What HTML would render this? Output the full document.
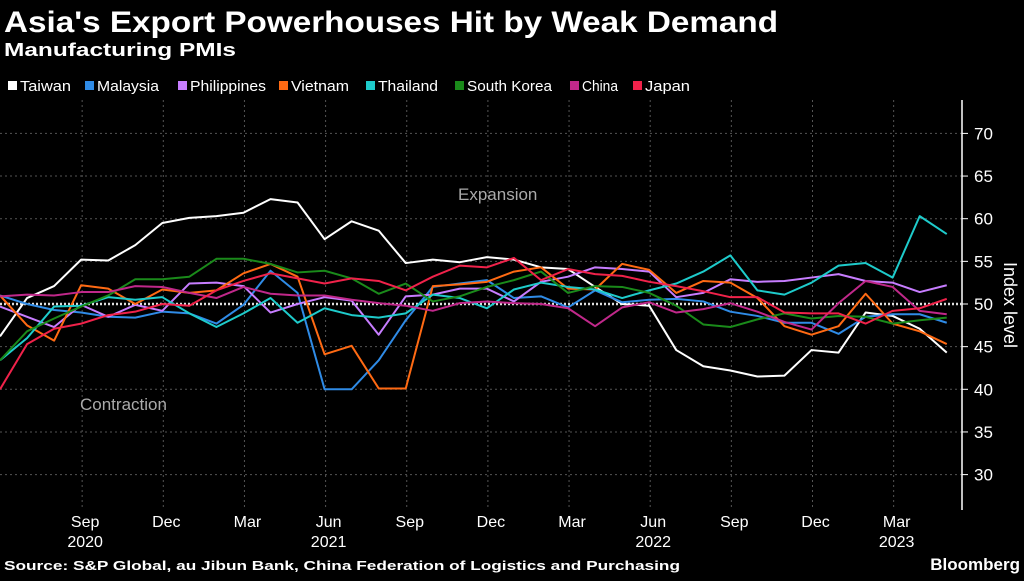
<!DOCTYPE html>
<html><head><meta charset="utf-8"><style>
body{margin:0;background:#000;width:1024px;height:576px;overflow:hidden;font-family:"Liberation Sans",sans-serif;color:#fff}
</style></head><body>
<svg id="c" width="1024" height="576" xmlns="http://www.w3.org/2000/svg">
<text x="4" y="32" font-size="30" font-weight="bold" fill="#fff" textLength="774" lengthAdjust="spacingAndGlyphs">Asia's Export Powerhouses Hit by Weak Demand</text>
<text x="4" y="56" font-size="18" font-weight="bold" fill="#fff" textLength="232" lengthAdjust="spacingAndGlyphs">Manufacturing PMIs</text>
<g id="legend"></g>
<g id="grid"></g><g id="series"></g>
<text x="80" y="410" font-size="17" fill="#aaa">Contraction</text>
<text x="458" y="200" font-size="17" fill="#aaa">Expansion</text>
<text transform="translate(1004,305) rotate(90)" text-anchor="middle" font-size="18" fill="#fff">Index level</text>
<text x="4" y="570" font-size="13" font-weight="bold" fill="#fff" textLength="676" lengthAdjust="spacingAndGlyphs">Source: S&amp;P Global, au Jibun Bank, China Federation of Logistics and Purchasing</text>
<text x="1020" y="570" text-anchor="end" font-size="17" font-weight="bold" fill="#fff">Bloomberg</text>
</svg>
<script>
const names=["Taiwan","Malaysia","Philippines","Vietnam","Thailand","South Korea","China","Japan"];
const colors=["#ffffff","#2f8be6","#c77dff","#ff6a13","#1ecbcb","#1a8a1a","#c0288a","#f0224a"];
const taiwan=[46.2,50.7,52.1,55.2,55.1,56.9,59.5,60.1,60.3,60.7,62.3,61.9,57.6,59.7,58.6,54.8,55.2,54.9,55.5,55.2,54.3,54.1,52.0,50.0,49.8,44.6,42.7,42.2,41.5,41.6,44.6,44.3,49.0,48.6,47.1,44.3];
const malaysia=[51,50,49.3,49,48.5,48.4,49.1,48.9,47.7,49.9,53.9,51.3,40,40,43.4,48.1,52,52.4,52.8,50.7,50.9,49.6,51.6,50.2,50.5,50.6,50.3,49.1,48.6,47.8,47.8,46.5,48.5,48.8,48.8,47.8];
const philippines=[49.7,48.5,47.3,49.9,48.5,49.9,49.2,52.4,52.5,52.1,49,50,50.8,50.4,46.4,50.9,51.1,51.8,51.8,50.3,52.6,53.2,54.3,54.1,53.8,50.8,51.3,52.9,52.6,52.7,53.1,53.5,52.7,52.5,51.4,52.2];
const vietnam=[51,47.5,45.7,52.2,51.8,50,51.7,51.3,51.6,53.6,54.7,53.2,44.1,45.1,40.1,40.1,52.1,52.3,52.6,53.8,54.3,51.8,51.7,54.7,54,51.3,52.7,52.5,50.7,47.4,46.4,47.4,51.2,47.7,46.8,45.3];
const thailand=[43.4,46,49.7,49.8,50.8,50.5,50.8,48.9,47.3,48.9,50.7,47.8,49.5,48.7,48.4,48.9,51.1,50.7,49.5,51.7,52.5,52,51.7,50.7,51.6,52.4,53.8,55.7,51.6,51.1,52.5,54.5,54.8,53.1,60.3,58.2];
const korea=[43.4,46.8,48.3,49.7,51,52.9,52.9,53.2,55.3,55.3,54.7,53.7,53.9,53,51.2,52.4,50.3,50.9,52,52.8,53.8,51.3,52.1,52,51.3,49.8,47.6,47.3,48.2,48.9,48.3,48.6,48.5,47.7,48.1,48.4];
const china=[50.9,51.1,51,51.4,51.4,52.1,52,51.3,50.7,52,51.2,51,51,50.5,50.1,49.8,49.2,50.1,50.3,50.1,50,49.5,47.4,49.6,50.2,49,49.4,50.1,49.1,47.9,47,50.1,52.7,52,49.2,48.8];
const japan=[40,45.3,47.1,47.7,48.7,49.1,50,49.8,51.6,52.7,53.6,53,52.4,53,52.7,51.6,53.2,54.5,54.3,55.4,52.8,54.1,53.5,53.3,52.6,52.1,51.5,50.8,50.8,49,48.9,48.9,47.7,49.2,49.5,50.6];
const seriesData=[taiwan,malaysia,philippines,vietnam,thailand,korea,china,japan];
const yTicks=[30,35,40,45,50,55,60,65,70];
const xTickMonths=[3,6,9,12,15,18,21,24,27,30,33];
const xTickLabels=["Sep","Dec","Mar","Jun","Sep","Dec","Mar","Jun","Sep","Dec","Mar"];
const yearLabels=[["2020",3],["2021",12],["2022",24],["2023",33]];
const NS="http://www.w3.org/2000/svg";
const X=i=>i*27.05, Y=v=>304-(v-50)*8.53;
function mk(t,a,p){const e=document.createElementNS(NS,t);for(const k in a)e.setAttribute(k,a[k]);p.appendChild(e);return e;}
const grid=document.getElementById('grid');
yTicks.forEach(v=>{
 if(v!==50){const l=mk('line',{x1:0,x2:962,y1:Y(v),y2:Y(v),stroke:'#555','stroke-dasharray':'2,3','stroke-width':1},grid);
 
 }
 const tk=mk('line',{x1:962,x2:968,y1:Y(v),y2:Y(v),stroke:'#fff'},grid);
 
 
 const t=mk('text',{x:974,y:Y(v)+6,'font-size':17,fill:'#fff'},grid);t.textContent=v;
 
 
});
const ax=mk('line',{x1:962,x2:962,y1:100,y2:510,stroke:'#fff','stroke-width':1.5},grid);


xTickMonths.forEach((m,k)=>{
 const l=mk('line',{x1:X(m)+1,x2:X(m)+1,y1:100,y2:510,stroke:'#555','stroke-dasharray':'2,3'},grid);
 
 
 const t=mk('text',{x:X(m)+4,y:527,'font-size':16,fill:'#fff','text-anchor':'middle'},grid);t.textContent=xTickLabels[k];
 
 
});
yearLabels.forEach(([y,m])=>{const t=mk('text',{x:X(m)+4,y:547,'font-size':16,fill:'#fff','text-anchor':'middle'},grid);t.textContent=y;
 
 });
const s=document.getElementById('series');
const zero=mk('line',{x1:0,x2:962,y1:Y(50),y2:Y(50),stroke:'#ddd','stroke-width':2.5,'stroke-dasharray':'2,2'},s);


seriesData.forEach((d,k)=>{
 const p=mk('polyline',{points:d.map((v,i)=>X(i)+','+Y(v)).join(' '),fill:'none',stroke:colors[k],'stroke-width':2,'stroke-linejoin':'round'},s);
 
 
});
const lg=document.getElementById('legend');
const legendX=[8,85,178,279,366,455,570,633];
const legendW=[51,62,76,58,60,85,36,45];
names.forEach((n,k)=>{
 const lx=legendX[k];
 const r=mk('rect',{x:lx,y:81,width:9,height:9,fill:colors[k]},lg);
 
 
 const t=mk('text',{x:lx+12,y:91,'font-size':15,fill:'#fff',textLength:legendW[k],lengthAdjust:'spacingAndGlyphs'},lg);t.textContent=n;
 
 
});
</script>
</body></html>
